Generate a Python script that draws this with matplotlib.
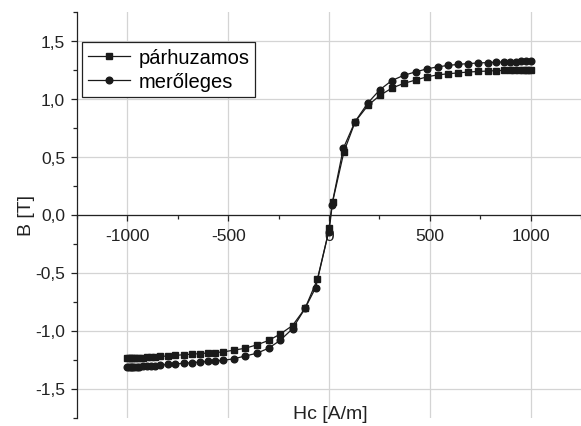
import numpy as np
import matplotlib.pyplot as plt
from matplotlib.ticker import MultipleLocator, FuncFormatter

plt.rcParams['font.family'] = ['Liberation Sans', 'DejaVu Sans']

# párhuzamos (squares)
h_par = [-1000, -992, -984, -975, -965, -953, -940, -925, -905, -885, -862, -837,
         -800, -762, -721, -680, -639, -600, -564, -527, -473, -416, -358, -300,
         -243, -181, -119, -58, 2, 18, 74, 130, 193, 252, 312, 371, 431, 487, 540,
         590, 640, 690, 740, 789, 830, 866, 896, 920, 942, 960, 975, 988, 1000]
b_par = [-1.240, -1.240, -1.239, -1.238, -1.237, -1.236, -1.235, -1.233, -1.231,
         -1.229, -1.227, -1.224, -1.219, -1.214, -1.209, -1.204, -1.199, -1.194,
         -1.190, -1.185, -1.170, -1.153, -1.124, -1.086, -1.032, -0.957, -0.810,
         -0.560, -0.120, 0.110, 0.540, 0.800, 0.940, 1.026, 1.090, 1.130, 1.160,
         1.187, 1.204, 1.213, 1.221, 1.228, 1.233, 1.237, 1.240, 1.242, 1.244,
         1.246, 1.247, 1.248, 1.249, 1.250, 1.250]

# merőleges (circles)
h_mer = [-1000, -992, -984, -975, -965, -953, -940, -925, -905, -885, -862, -837,
         -800, -762, -721, -680, -639, -600, -564, -527, -473, -416, -358, -300,
         -243, -181, -119, -66, -2, 14, 71, 129, 192, 252, 312, 371, 431, 487, 540,
         590, 640, 690, 740, 789, 830, 866, 896, 926, 954, 979, 1000]
b_mer = [-1.316, -1.316, -1.315, -1.314, -1.313, -1.312, -1.311, -1.309, -1.307,
         -1.305, -1.302, -1.298, -1.293, -1.288, -1.283, -1.277, -1.272, -1.267,
         -1.263, -1.258, -1.244, -1.220, -1.196, -1.153, -1.086, -0.985, -0.810,
         -0.630, -0.150, 0.080, 0.570, 0.800, 0.960, 1.075, 1.155, 1.200, 1.230,
         1.256, 1.273, 1.285, 1.294, 1.301, 1.306, 1.310, 1.313, 1.315, 1.317,
         1.318, 1.319, 1.320, 1.320]

fig = plt.figure(figsize=(5.81, 4.27), dpi=100)
ax = fig.add_axes([77/581, 8.5/427, 504/581, 406/427])

ink = '#1a1a1a'
ax.plot(h_par, b_par, color=ink, lw=0.9, marker='s', ms=4.4, label='párhuzamos')
ax.plot(h_mer, b_mer, color=ink, lw=0.9, marker='o', ms=4.8, label='merőleges')

ax.set_xlim(-1250, 1250)
ax.set_ylim(-1.75, 1.75)

ax.xaxis.set_major_locator(MultipleLocator(500))
ax.xaxis.set_minor_locator(MultipleLocator(250))
ax.yaxis.set_major_locator(MultipleLocator(0.5))
ax.yaxis.set_minor_locator(MultipleLocator(0.25))
ax.yaxis.set_major_formatter(FuncFormatter(lambda v, p: f'{v:.1f}'.replace('.', ',')))
ax.xaxis.set_major_formatter(FuncFormatter(lambda v, p: '' if abs(v) > 1100 else f'{v:.0f}'))

ax.grid(True, which='major', color='#d4d4d4', lw=0.9)
ax.set_axisbelow(True)

ax.spines['bottom'].set_position(('data', 0))
ax.spines['top'].set_visible(False)
ax.spines['right'].set_visible(False)
for s in ('left', 'bottom'):
    ax.spines[s].set_color('#222222')
    ax.spines[s].set_linewidth(0.9)

ax.tick_params(which='major', direction='out', length=4.5, width=0.9, color='#222222',
               labelsize=12.5, labelcolor='#222222')
ax.tick_params(which='minor', direction='out', length=3, width=0.9, color='#222222')
ax.tick_params(axis='x', which='major', pad=5)
ax.tick_params(axis='y', which='major', pad=4)

ax.set_ylabel('B [T]', fontsize=14, color='#222222', labelpad=0)
fig.text(330/581, 1 - 415/427, 'Hc [A/m]', fontsize=14, color='#222222',
         ha='center', va='center')

leg = ax.legend(loc='upper left', bbox_to_anchor=(0.0099, 0.926), borderaxespad=0,
                fontsize=14.5, frameon=True, fancybox=False, framealpha=1,
                edgecolor='#222222', handlelength=2.1, handletextpad=0.4,
                labelspacing=0.25, borderpad=0.3, numpoints=1)
leg.get_frame().set_linewidth(0.9)

fig.savefig('out.png', dpi=100)
